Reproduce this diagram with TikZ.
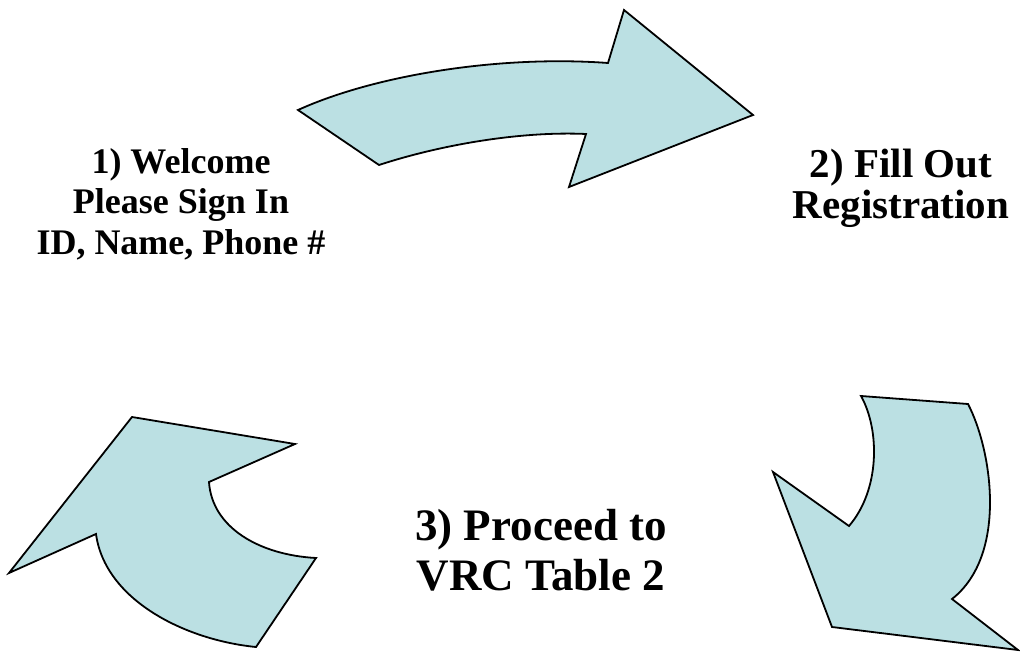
\documentclass[tikz,border=0pt]{standalone}
\usepackage{fontspec}
\setmainfont{Liberation Serif}
\definecolor{arrowfill}{RGB}{187,224,227}
\tikzset{
  bigarrow/.style={fill=arrowfill, draw=black, line width=1.8pt, line join=miter},
  steptext/.style={align=center, inner sep=0pt, text=black}
}
\begin{document}
\begin{tikzpicture}[x=1pt,y=-1pt]
\useasboundingbox (0,0) rectangle (1020,652);
\fill[white] (0,0) rectangle (1020,652);
% top arrow
\draw[bigarrow] (298,110) .. controls (375,75) and (500,55) .. (608,63)
  -- (624,10) -- (753,115) -- (569,187) -- (586,134)
  .. controls (520,131) and (440,145) .. (379,165) -- cycle;
% right arrow
\draw[bigarrow] (861,396) -- (968,404)
  .. controls (992,450) and (1008,555) .. (952,599)
  -- (1018,650) -- (832,627) -- (773,472) -- (849,526)
  .. controls (880,490) and (880,430) .. (861,396) -- cycle;
% left arrow
\draw[bigarrow] (132,417) -- (295,444) -- (209,482)
  .. controls (212,528) and (260,555) .. (316,558)
  -- (256,647)
  .. controls (185,640) and (105,600) .. (96,534)
  -- (9,573) -- cycle;
% texts
\node[steptext, font=\fontsize{36}{40.5}\selectfont\bfseries] (s1) at (181,204)
  {1) Welcome\\Please Sign In\\ID, Name, Phone \#};
\node[steptext, font=\fontsize{41}{41}\selectfont\bfseries] (s2) at (901,188)
  {2) Fill Out\\Registration};
\node[steptext, font=\fontsize{45}{50}\selectfont\bfseries] (s3) at (541,550)
  {3) Proceed to\\VRC Table 2};
\end{tikzpicture}
\end{document}
